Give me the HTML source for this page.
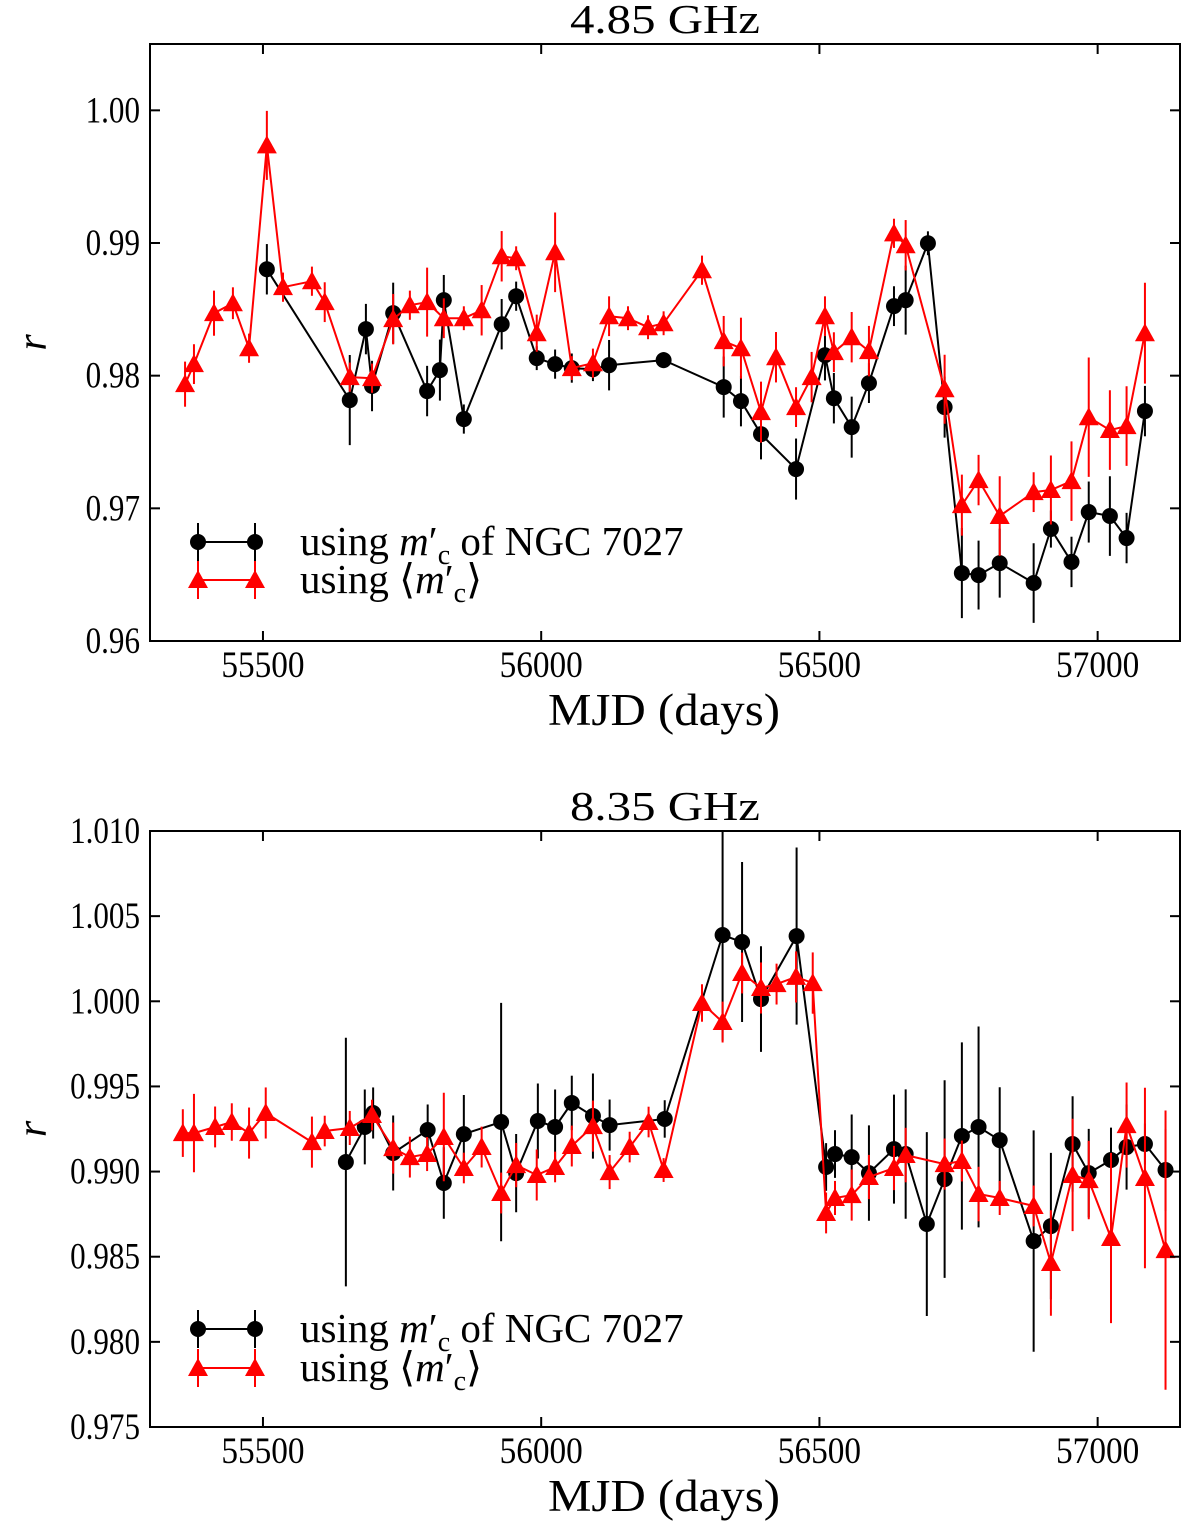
<!DOCTYPE html>
<html><head><meta charset="utf-8"><style>
html,body{margin:0;padding:0;background:#fff;}
svg text{font-family:"Liberation Serif","DejaVu Serif",serif;}
</style></head><body>
<svg id="fig" width="1200" height="1531" viewBox="0 0 1200 1531" xmlns="http://www.w3.org/2000/svg">
<defs>
<clipPath id="clipTop"><rect x="150" y="44" width="1030" height="597"/></clipPath>
<clipPath id="clipBot"><rect x="150" y="831" width="1030" height="596"/></clipPath>
</defs>
</svg>
<script>
const xTicks=[55500,56000,56500,57000];
const topYTicks=[0.96,0.97,0.98,0.99,1.00];
const topYLabels=["0.96","0.97","0.98","0.99","1.00"];
const botYTicks=[0.975,0.980,0.985,0.990,0.995,1.000,1.005,1.010];
const botYLabels=["0.975","0.980","0.985","0.990","0.995","1.000","1.005","1.010"];

const topBlackX=[55507,55656,55685,55696,55734,55795,55818,55825,55861,55929,55955,55992,56025,56055,56093,56122,56220,56328,56359,56395,56458,56510,56526,56558,56589,56634,56655,56695,56725,56756,56786,56824,56885,56916,56953,56984,57022,57052,57085];
const topBlackY=[0.98802,0.97816,0.98351,0.97922,0.98471,0.97884,0.98042,0.98569,0.97673,0.98388,0.98599,0.98132,0.98087,0.98057,0.98049,0.98079,0.98117,0.97914,0.97808,0.97559,0.97296,0.98154,0.97830,0.97612,0.97944,0.98524,0.98569,0.98998,0.97763,0.96512,0.96497,0.96587,0.96437,0.96844,0.96596,0.96972,0.96942,0.96776,0.97733];
const topBlackErr=[0.0019,0.0034,0.0019,0.0019,0.0023,0.0019,0.0023,0.0019,0.0011,0.0019,0.0011,0.0009,0.0011,0.0011,0.0009,0.0019,0.0006,0.0023,0.0019,0.0019,0.0023,0.0019,0.0019,0.0023,0.0015,0.0015,0.0026,0.0009,0.0023,0.0034,0.0026,0.0026,0.0030,0.0014,0.0019,0.0023,0.0030,0.0019,0.0019];

const topRedX=[55360,55376,55412,55446,55475,55507,55536,55588,55611,55656,55696,55734,55764,55795,55825,55861,55893,55929,55955,55992,56025,56055,56093,56122,56156,56192,56220,56289,56328,56359,56395,56422,56458,56486,56510,56526,56558,56589,56634,56655,56725,56756,56786,56824,56885,56916,56953,56984,57022,57052,57085];
const topRedY=[0.97936,0.98087,0.98471,0.98546,0.98207,0.99736,0.98667,0.98712,0.98554,0.97989,0.97981,0.98426,0.98531,0.98554,0.98433,0.98433,0.98493,0.98900,0.98885,0.98320,0.98930,0.98057,0.98094,0.98448,0.98433,0.98365,0.98395,0.98795,0.98260,0.98207,0.97725,0.98139,0.97763,0.97989,0.98448,0.98177,0.98290,0.98185,0.99073,0.98983,0.97898,0.97024,0.97213,0.96942,0.97122,0.97138,0.97205,0.97687,0.97590,0.97620,0.98320];
const topRedErr=[0.0017,0.0015,0.0017,0.0012,0.0011,0.0026,0.0011,0.0011,0.0015,0.0011,0.0011,0.0019,0.0011,0.0026,0.0015,0.0009,0.0019,0.0019,0.0009,0.0014,0.0030,0.0009,0.0011,0.0015,0.0009,0.0009,0.0009,0.0011,0.0019,0.0023,0.0023,0.0019,0.0015,0.0019,0.0015,0.0015,0.0019,0.0019,0.0011,0.0019,0.0026,0.0023,0.0019,0.0030,0.0015,0.0026,0.0030,0.0045,0.0030,0.0030,0.0038];

const botBlackX=[55649,55683,55698,55734,55796,55825,55861,55928,55955,55994,56025,56055,56093,56123,56222,56326,56361,56395,56459,56512,56528,56558,56589,56634,56655,56693,56725,56756,56786,56824,56885,56916,56955,56984,57024,57052,57085,57122];
const botBlackY=[0.99056,0.99262,0.99344,0.99109,0.99244,0.98933,0.99220,0.99291,0.98991,0.99297,0.99262,0.99403,0.99326,0.99273,0.99309,1.00389,1.00348,1.00013,1.00383,0.99027,0.99103,0.99085,0.98991,0.99132,0.99103,0.98692,0.98956,0.99209,0.99262,0.99185,0.98592,0.98680,0.99162,0.98991,0.99068,0.99144,0.99162,0.99009];
const botBlackErr=[0.0073,0.0022,0.0015,0.0022,0.0015,0.0021,0.0023,0.0070,0.0023,0.0022,0.0022,0.0016,0.0025,0.0015,0.0011,0.0062,0.0047,0.0031,0.0052,0.0014,0.0014,0.0025,0.0028,0.0032,0.0038,0.0054,0.0058,0.0055,0.0059,0.0031,0.0065,0.0043,0.0028,0.0026,0.0019,0.0025,0.0012,0.0024];

const botRedX=[55356,55376,55414,55444,55475,55505,55588,55611,55656,55696,55734,55764,55795,55825,55861,55893,55928,55955,55992,56025,56055,56093,56123,56159,56193,56220,56289,56326,56361,56395,56423,56458,56488,56512,56528,56558,56589,56634,56655,56725,56756,56786,56824,56885,56916,56955,56984,57024,57052,57085,57122];
const botRedY=[0.99226,0.99226,0.99262,0.99291,0.99226,0.99344,0.99173,0.99238,0.99256,0.99332,0.99138,0.99085,0.99103,0.99203,0.99021,0.99144,0.98874,0.99038,0.98980,0.99027,0.99150,0.99267,0.98997,0.99144,0.99291,0.99009,0.99990,0.99878,1.00166,1.00078,1.00101,1.00143,1.00107,0.98757,0.98845,0.98862,0.98968,0.99021,0.99097,0.99044,0.99062,0.98868,0.98845,0.98798,0.98463,0.98980,0.98950,0.98610,0.99273,0.98962,0.98539];
const botRedErr=[0.0014,0.0023,0.0012,0.0011,0.0015,0.0015,0.0015,0.0009,0.0010,0.0009,0.0015,0.0012,0.0010,0.0026,0.0009,0.0012,0.0012,0.0013,0.0015,0.0009,0.0012,0.0015,0.0010,0.0009,0.0009,0.0007,0.0011,0.0012,0.0012,0.0015,0.0012,0.0015,0.0018,0.0012,0.0010,0.0015,0.0013,0.0013,0.0016,0.0015,0.0012,0.0016,0.0010,0.0012,0.0031,0.0033,0.0023,0.0050,0.0025,0.0053,0.0082];

const NS='http://www.w3.org/2000/svg';
const svg=document.getElementById('fig');
function mk(tag,attrs,parent){const e=document.createElementNS(NS,tag);for(const k in attrs)e.setAttribute(k,attrs[k]);(parent||svg).appendChild(e);return e;}

function panel(cfg){
  const L=150,R=1180,T=cfg.top,B=cfg.bottom;
  const xS=v=>L+(v-55297)*(R-L)/(57148-55297);
  const yS=v=>B-(v-cfg.ymin)*(B-T)/(cfg.ymax-cfg.ymin);
  const g=mk('g',{});
  
  
  const dg=mk('g',{'clip-path':'url(#'+cfg.clip+')'},g);
  function series(xs,ys,es,color,shape,nm){
    const sg=mk('g',{},dg);
    
    
    let d='';
    xs.forEach((x,i)=>{d+=(i?'L':'M')+xS(x).toFixed(1)+' '+yS(ys[i]).toFixed(1);});
    const ln=mk('path',{d:d,fill:'none',stroke:color,'stroke-width':2},sg);
    
    
    xs.forEach((x,i)=>{
      const cx=xS(x),cy=yS(ys[i]);
      const eb=mk('line',{x1:cx,x2:cx,y1:yS(ys[i]-es[i]),y2:yS(ys[i]+es[i]),stroke:color,'stroke-width':2},sg);
      
      
      let m;
      if(shape==='circle') m=mk('circle',{cx:cx,cy:cy,r:8,fill:color},sg);
      else m=mk('polygon',{points:`${cx},${cy-10} ${cx-10},${cy+8} ${cx+10},${cy+8}`,fill:color},sg);
      
      
    });
  }
  series(cfg.bx,cfg.by,cfg.be,'#000','circle',cfg.name+'-ngc7027-series');
  series(cfg.rx,cfg.ry,cfg.re,'#ff0000','tri',cfg.name+'-mean-series');
  const fr=mk('rect',{x:L,y:T,width:R-L,height:B-T,fill:'none',stroke:'#000','stroke-width':2},g);
  
  
  xTicks.forEach(v=>{
    const x=xS(v);
    mk('line',{x1:x,x2:x,y1:B,y2:B-10,stroke:'#000','stroke-width':2},g);
    mk('line',{x1:x,x2:x,y1:T,y2:T+10,stroke:'#000','stroke-width':2},g);
    const t=mk('text',{x:0,y:0,'font-size':37,'text-anchor':'middle',transform:`translate(${x},${B+36}) scale(0.9,1)`},g);
    t.textContent=String(v);
    
    
  });
  cfg.yt.forEach((v,i)=>{
    const y=yS(v);
    mk('line',{x1:L,x2:L+10,y1:y,y2:y,stroke:'#000','stroke-width':2},g);
    mk('line',{x1:R,x2:R-10,y1:y,y2:y,stroke:'#000','stroke-width':2},g);
    const t=mk('text',{x:0,y:0,'font-size':37,'text-anchor':'end',transform:`translate(${L-10},${y+12}) scale(0.84,1)`},g);
    t.textContent=cfg.yl[i];
    
    
  });
  const ti=mk('text',{x:570,y:T-11,'font-size':41,textLength:190,lengthAdjust:'spacingAndGlyphs'},g);
  ti.textContent=cfg.title;
  
  
  const xl=mk('text',{x:548,y:B+84,'font-size':45,textLength:232,lengthAdjust:'spacingAndGlyphs'},g);
  xl.textContent='MJD (days)';
  
  
  const yl=mk('text',{x:0,y:0,'font-size':42,'font-style':'italic','text-anchor':'middle',transform:`translate(46,${(T+B)/2}) rotate(-90)`},g);
  yl.textContent='r';
  
  
  const lg=mk('g',{},g);
  
  
  [[cfg.ly1,'#000','circle'],[cfg.ly2,'#ff0000','tri']].forEach((it,k)=>{
    const [y,c,s]=it;
    mk('line',{x1:198,x2:255,y1:y,y2:y,stroke:c,'stroke-width':2},lg);
    [198,255].forEach(x=>{
      mk('line',{x1:x,x2:x,y1:y-19,y2:y+19,stroke:c,'stroke-width':2},lg);
      if(s==='circle') mk('circle',{cx:x,cy:y,r:8,fill:c},lg);
      else mk('polygon',{points:`${x},${y-10} ${x-10},${y+8} ${x+10},${y+8}`,fill:c},lg);
    });
    const t=mk('text',{x:300,y:y+13,'font-size':41},lg);
    
    
    if(k===0) t.innerHTML='using <tspan font-style="italic">m</tspan>′<tspan font-size="28" dy="9">c</tspan><tspan dy="-9"> of NGC 7027</tspan>';
    else t.innerHTML='using ⟨<tspan font-style="italic">m</tspan>′<tspan font-size="28" dy="9">c</tspan><tspan dy="-9">⟩</tspan>';
  });
}
panel({name:'panel-4-85ghz',top:44,bottom:641,ymin:0.96,ymax:1.005,clip:'clipTop',yt:topYTicks,yl:topYLabels,title:'4.85 GHz',
  bx:topBlackX,by:topBlackY,be:topBlackErr,rx:topRedX,ry:topRedY,re:topRedErr,ly1:542,ly2:580});
panel({name:'panel-8-35ghz',top:831,bottom:1427,ymin:0.975,ymax:1.010,clip:'clipBot',yt:botYTicks,yl:botYLabels,title:'8.35 GHz',
  bx:botBlackX,by:botBlackY,be:botBlackErr,rx:botRedX,ry:botRedY,re:botRedErr,ly1:1329,ly2:1368});
</script>
</body></html>
